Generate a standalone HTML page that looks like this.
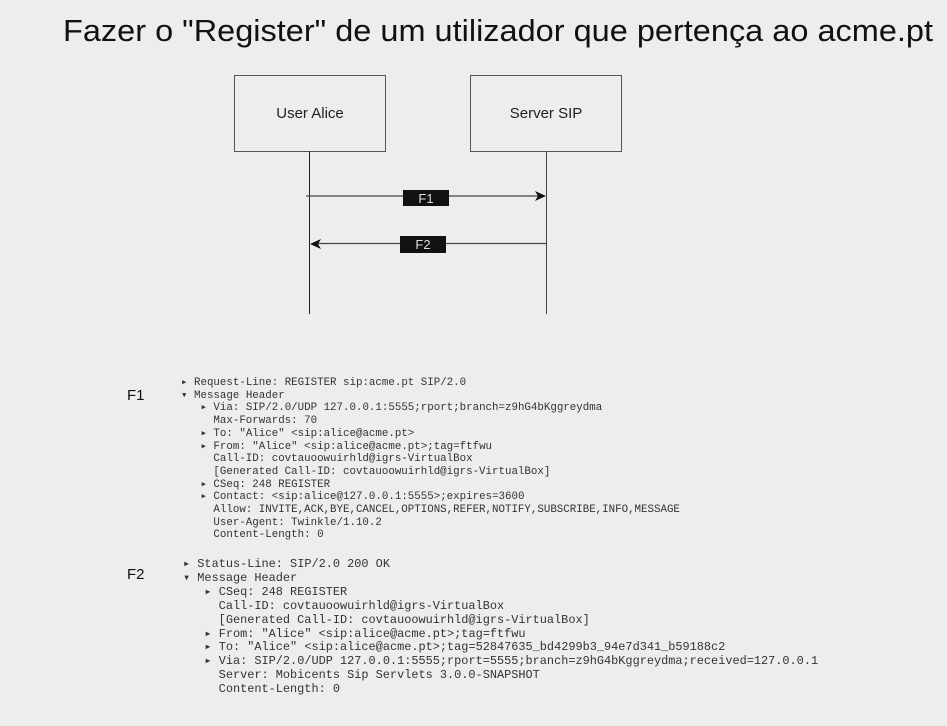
<!DOCTYPE html>
<html><head><style>
body{margin:0;width:947px;height:726px;background:#ededed;position:relative;overflow:hidden;font-family:"Liberation Sans",sans-serif}
.t{position:absolute;white-space:pre;color:#2a2a2a}
.m{font-family:"Liberation Mono",monospace;color:#333}
</style></head><body>
<div class="t" style="left:63px;top:13px;font-size:31px;color:#111;transform:scaleX(1.048);transform-origin:0 0">Fazer o "Register" de um utilizador que pertença ao acme.pt</div>
<svg width="947" height="330" style="position:absolute;left:0;top:0">
<rect x="234.5" y="75.5" width="151" height="76" fill="none" stroke="#555"/>
<rect x="470.5" y="75.5" width="151" height="76" fill="none" stroke="#555"/>
<text x="310" y="118" font-size="15" text-anchor="middle" fill="#222" font-family="Liberation Sans">User Alice</text>
<text x="546" y="118" font-size="15" text-anchor="middle" fill="#222" font-family="Liberation Sans">Server SIP</text>
<line x1="309.5" y1="151" x2="309.5" y2="314" stroke="#222"/>
<line x1="546.5" y1="151" x2="546.5" y2="314" stroke="#444"/>
<line x1="306" y1="196" x2="540" y2="196" stroke="#444" stroke-width="1.2"/>
<polygon points="546,196 535,191 538,196 535,201" fill="#111"/>
<rect x="403" y="190" width="46" height="16" fill="#111"/>
<text x="426" y="203" font-size="13" text-anchor="middle" fill="#ddd" font-family="Liberation Sans">F1</text>
<line x1="316" y1="243.5" x2="546" y2="243.5" stroke="#444" stroke-width="1.2"/>
<polygon points="310,244 321,239 318,244 321,249" fill="#111"/>
<rect x="400" y="236" width="46" height="17" fill="#111"/>
<text x="423" y="249" font-size="13" text-anchor="middle" fill="#ddd" font-family="Liberation Sans">F2</text>
<line x1="175" y1="557.5" x2="828" y2="557.5" stroke="#d5d5d5"/>
</svg>
<div class="t" style="left:127px;top:387px;font-size:15px;color:#111">F1</div>
<div class="t" style="left:127px;top:566px;font-size:15px;color:#111">F2</div>
<div class="t m" style="left:181px;top:377px;font-size:10.8px;line-height:12.7px">▸ Request-Line: REGISTER sip:acme.pt SIP/2.0
▾ Message Header
   ▸ Via: SIP/2.0/UDP 127.0.0.1:5555;rport;branch=z9hG4bKggreydma
     Max-Forwards: 70
   ▸ To: "Alice" &lt;sip:alice@acme.pt&gt;
   ▸ From: "Alice" &lt;sip:alice@acme.pt&gt;;tag=ftfwu
     Call-ID: covtauoowuirhld@igrs-VirtualBox
     [Generated Call-ID: covtauoowuirhld@igrs-VirtualBox]
   ▸ CSeq: 248 REGISTER
   ▸ Contact: &lt;sip:alice@127.0.0.1:5555&gt;;expires=3600
     Allow: INVITE,ACK,BYE,CANCEL,OPTIONS,REFER,NOTIFY,SUBSCRIBE,INFO,MESSAGE
     User-Agent: Twinkle/1.10.2
     Content-Length: 0</div>
<div class="t m" style="left:183px;top:558px;font-size:11.9px;line-height:13.9px">▸ Status-Line: SIP/2.0 200 OK
▾ Message Header
   ▸ CSeq: 248 REGISTER
     Call-ID: covtauoowuirhld@igrs-VirtualBox
     [Generated Call-ID: covtauoowuirhld@igrs-VirtualBox]
   ▸ From: "Alice" &lt;sip:alice@acme.pt&gt;;tag=ftfwu
   ▸ To: "Alice" &lt;sip:alice@acme.pt&gt;;tag=52847635_bd4299b3_94e7d341_b59188c2
   ▸ Via: SIP/2.0/UDP 127.0.0.1:5555;rport=5555;branch=z9hG4bKggreydma;received=127.0.0.1
     Server: Mobicents Sip Servlets 3.0.0-SNAPSHOT
     Content-Length: 0</div>
</body></html>
